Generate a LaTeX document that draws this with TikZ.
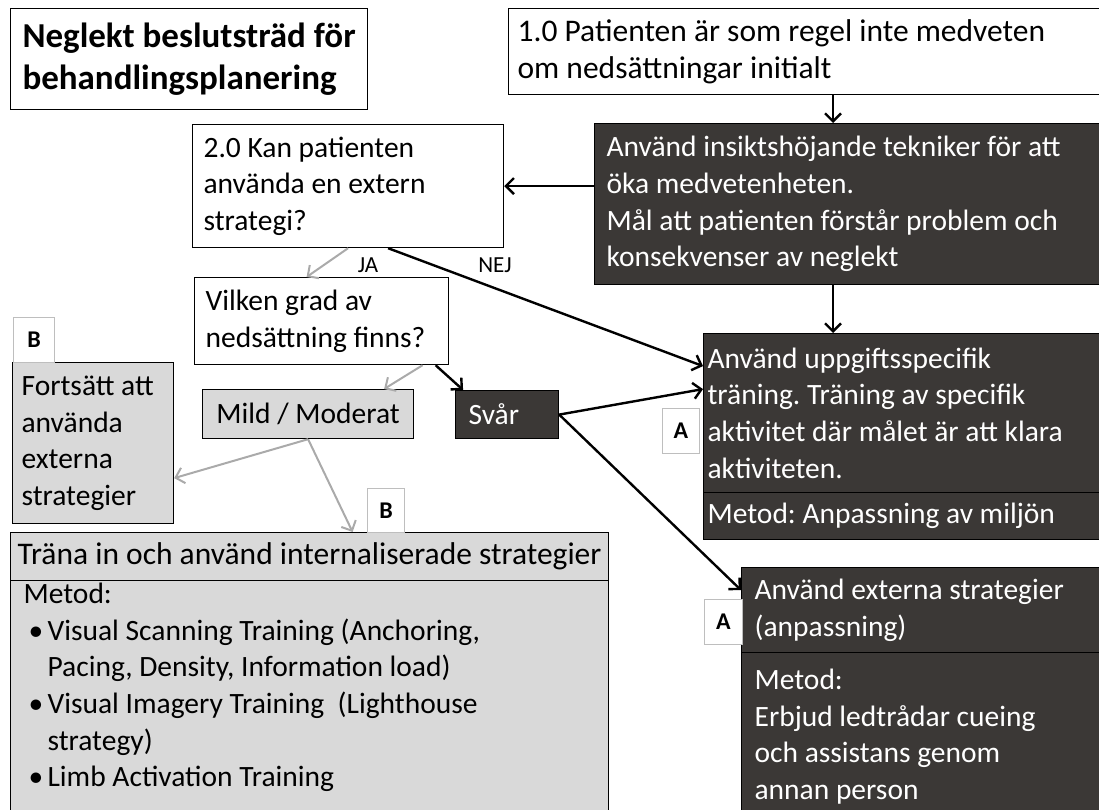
\documentclass[tikz,border=0pt]{standalone}
\usepackage{fontspec}
\setmainfont{Carlito}
\frenchspacing
\usetikzlibrary{arrows.meta,positioning}
\definecolor{boxdark}{RGB}{59,56,54}
\definecolor{boxgrey}{RGB}{217,217,217}
\definecolor{linegrey}{RGB}{170,170,170}
\definecolor{taggrey}{RGB}{190,190,190}
\tikzset{
    box/.style={draw, anchor=north west, inner ysep=0pt, align=flush left, line width=1.2pt,
        font=\fontsize{29.5}{36.6}\selectfont},
    lightbox/.style={box, fill=white},
    greybox/.style={box, fill=boxgrey},
    darkbox/.style={box, fill=boxdark, text=white},
    tag/.style={draw=taggrey, fill=white, line width=1pt, anchor=north west, inner sep=0pt,
        font=\fontsize{24}{28}\selectfont\bfseries},
    flow/.style={draw, line width=2.4pt, -{Straight Barb[length=8pt,width=16pt]}},
    greyflow/.style={flow, draw=linegrey, line width=2pt},
    answer/.style={font=\fontsize{23}{26}\selectfont, inner sep=0pt}
}
\begin{document}
\begin{tikzpicture}[x=1pt, y=-1pt]
    \useasboundingbox (0,0) rectangle (1099,810);
    \coordinate (vline) at (833,0);
    % title
    \node[box, inner xsep=0pt, minimum width=357pt, minimum height=101pt,
        font=\fontsize{35}{42}\selectfont\bfseries] (title) at (10,8)
        {Neglekt beslutsträd för\\ behandlingsplanering};
    % top row
    \node[lightbox, inner xsep=9pt, text width=622pt, minimum height=86pt,
        font=\fontsize{31.5}{36.6}\selectfont] (p1) at (508,8)
        {1.0 Patienten är som regel inte medveten\\ om nedsättningar initialt};
    \node[darkbox, inner xsep=12pt, text width=536pt, minimum height=161pt] (insikt) at (594,123)
        {Använd insiktshöjande tekniker för att\\ öka medvetenheten.\\
         Mål att patienten förstår problem och\\ konsekvenser av neglekt};
    \node[lightbox, inner xsep=11pt, text width=289pt, minimum height=123pt] (q2) at (192,124)
        {2.0 Kan patienten\\ använda en extern\\ strategi?};
    \node[lightbox, inner xsep=11pt, text width=232pt, minimum height=87pt] (vilken) at (194,277)
        {Vilken grad av\\ nedsättning finns?};
    \node[greybox, inner xsep=0pt, minimum width=211pt, minimum height=49pt] (mild) at (202,389)
        {Mild / Moderat};
    \node[darkbox, inner xsep=13pt, text width=77pt, minimum height=48pt] (svar) at (455,390)
        {Svår};
    % right column
    \node[darkbox, inner xsep=4pt, text width=442pt, minimum height=159pt] (uppg) at (703,333)
        {Använd uppgiftsspecifik\\ träning. Träning av specifik\\
         aktivitet där målet är att klara\\ aktiviteten.};
    \node[darkbox, inner xsep=4pt, text width=442pt, minimum height=47pt] (uppgm) at (703,492)
        {Metod: Anpassning av miljön};
    \node[darkbox, inner xsep=13pt, text width=394pt, minimum height=85pt] (ext) at (741,567)
        {Använd externa strategier\\ (anpassning)};
    \node[darkbox, inner xsep=13pt, text width=394pt, minimum height=168pt] (extm) at (741,652)
        {Metod:\\ Erbjud ledtrådar cueing\\ och assistans genom\\ annan person};
    % left column
    \node[greybox, inner xsep=9pt, text width=143pt, minimum height=161pt] (fort) at (12,362)
        {Fortsätt att\\ använda\\ externa\\ strategier};
    \node[greybox, inner xsep=0pt, minimum width=598pt, minimum height=48pt,
        font=\fontsize{31.5}{36.6}\selectfont] (trana) at (10,532)
        {Träna in och använd internaliserade strategier};
    \node[greybox, inner xsep=13pt, text width=572pt, text height=23pt, text depth=240pt] (tranab) at (10,580)
        {Metod:\\
         \hspace*{5pt}\makebox[19pt][l]{\textbullet}Visual Scanning Training (Anchoring,\\
         \hspace*{24pt}Pacing, Density, Information load)\\
         \hspace*{5pt}\makebox[19pt][l]{\textbullet}Visual Imagery Training\ \ (Lighthouse\\
         \hspace*{24pt}strategy)\\
         \hspace*{5pt}\makebox[19pt][l]{\textbullet}Limb Activation Training};
    % tags
    \node[tag, minimum width=41pt, minimum height=45pt] (tagB1) at (13,317) {B};
    \node[tag, minimum width=37pt, minimum height=44pt] (tagB2) at (367,488) {B};
    \node[tag, minimum width=37pt, minimum height=45pt] (tagA1) at (662,408) {A};
    \node[tag, minimum width=38pt, minimum height=45pt] (tagA2) at (704,599) {A};
    % answers
    \node[answer] (ja) at (368,265) {JA};
    \node[answer] (nej) at (495,265) {NEJ};
    % connectors
    \draw[flow] (p1.south -| vline) -- (insikt.north -| vline);
    \draw[flow] (insikt.west |- q2.east) -- (q2.east);
    \draw[greyflow] (q2.south) -- ([xshift=-15pt]vilken.north);
    \draw[flow] ([xshift=40pt]q2.south) -- ([yshift=47pt]uppg.west);
    \draw[flow] (insikt.south -| vline) -- (uppg.north -| vline);
    \draw[greyflow] ([xshift=101pt]vilken.south) -- ([xshift=76pt]mild.north);
    \draw[flow] ([xshift=114pt]vilken.south) -- ([xshift=-44pt]svar.north);
    \draw[flow] (svar.east) -- ([yshift=24pt]uppg.west);
    \draw[flow] (svar.east) -- ([yshift=20pt]ext.west);
    \draw[greyflow] (mild.south) -- ([yshift=-35pt]fort.east);
    \draw[greyflow] (mild.south) -- ([xshift=43pt]trana.north);
\end{tikzpicture}
\end{document}
